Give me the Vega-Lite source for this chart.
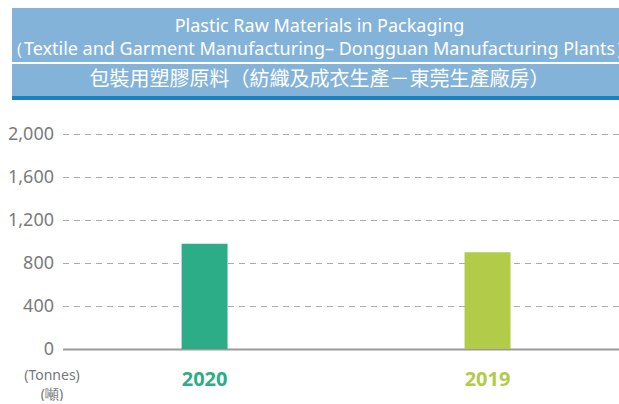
{
  "$schema": "https://vega.github.io/schema/vega-lite/v6.json",
  "padding": {"left": 5, "top": 8, "right": 0, "bottom": 0},
  "background": "white",
  "config": {"view": {"stroke": null}, "font": "Noto Sans"},
  "datasets": {
    "titleEn": [
      {"line": 1, "text": "Plastic Raw Materials in Packaging"},
      {"line": 2, "text": "（Textile and Garment Manufacturing– Dongguan Manufacturing Plants）"}
    ],
    "titleZh": [{"text": "包裝用塑膠原料（紡織及成衣生產－東莞生產廠房）"}],
    "bars": [
      {"year": "2020", "tonnes": 980},
      {"year": "2019", "tonnes": 900}
    ]
  },
  "concat": [
    {
      "vconcat": [
        {
          "width": 671,
          "height": 54,
          "view": {"fill": "#84B3DA", "stroke": null},
          "data": {"name": "titleEn"},
          "mark": {"type": "text", "color": "white", "fontSize": 18, "dx": -28},
          "encoding": {
            "y": {"field": "line", "type": "ordinal", "axis": null, "scale": {"padding": 0.674, "align": 0.613}},
            "text": {"field": "text"}
          }
        },
        {
          "vconcat": [
            {
              "width": 671,
              "height": 32,
              "view": {"fill": "#84B3DA", "stroke": null},
              "data": {"name": "titleZh"},
              "mark": {"type": "text", "color": "white", "fontSize": 20, "font": "Noto Sans CJK TC", "dx": -28},
              "encoding": {"text": {"field": "text"}}
            },
            {
              "width": 671,
              "height": 4,
              "view": {"fill": "#1E80C1", "stroke": null},
              "data": {"name": "titleZh"},
              "mark": {"type": "text", "fontSize": 1, "opacity": 0},
              "encoding": {"text": {"field": "text"}}
            }
          ],
          "spacing": 0
        }
      ],
      "spacing": 2
    },
    {
      "width": 570,
      "height": 215,
      "data": {"name": "bars"},
      "mark": {"type": "bar"},
      "encoding": {
        "x": {
          "field": "year",
          "type": "nominal",
          "sort": null,
          "scale": {"domain": ["2020", "2019"], "paddingInner": 0.8375, "paddingOuter": 0.426, "align": 0.494},
          "axis": {
            "title": null,
            "labelAngle": 0,
            "ticks": false,
            "domainColor": "#9a9a9a",
            "domainWidth": 2,
            "labelFontSize": 20,
            "labelFontWeight": "bold",
            "labelPadding": 20,
            "labelColor": {"expr": "datum.value == '2020' ? '#2DAD87' : '#B2CB48'"}
          }
        },
        "y": {
          "field": "tonnes",
          "type": "quantitative",
          "scale": {"domain": [0, 2000]},
          "axis": {
            "values": [0, 400, 800, 1200, 1600, 2000],
            "format": ",d",
            "domain": false,
            "ticks": false,
            "labelPadding": 9,
            "labelFontSize": 18,
            "labelColor": "#7B7B7B",
            "gridDash": [6, 5],
            "gridColor": "#ABABAB",
            "gridWidth": 1.2,
            "title": ["(Tonnes)", "(噸)"],
            "titleAngle": 0,
            "titleX": -11,
            "titleY": 241,
            "titleAlign": "center",
            "titleBaseline": "middle",
            "titleFontSize": 14,
            "titleFontWeight": "normal",
            "titleColor": "#777777",
            "titleLineHeight": 19
          }
        },
        "color": {
          "field": "year",
          "type": "nominal",
          "scale": {"domain": ["2020", "2019"], "range": ["#2DAD87", "#B2CB48"]},
          "legend": null
        }
      }
    }
  ],
  "columns": 1,
  "center": true,
  "spacing": 25
}
